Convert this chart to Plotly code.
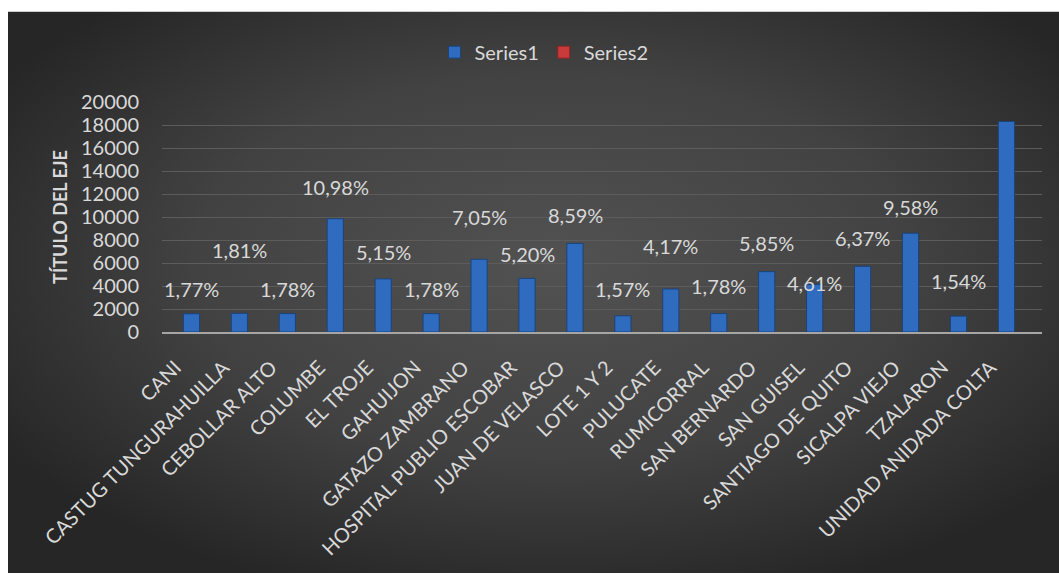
import base64
import plotly.graph_objects as go

categories = ["CANI", "CASTUG TUNGURAHUILLA", "CEBOLLAR ALTO", "COLUMBE", "EL TROJE",
              "GAHUIJON", "GATAZO ZAMBRANO", "HOSPITAL PUBLIO ESCOBAR", "JUAN DE VELASCO",
              "LOTE 1 Y 2", "PULUCATE", "RUMICORRAL", "SAN BERNARDO", "SAN GUISEL",
              "SANTIAGO DE QUITO", "SICALPA VIEJO", "TZALARON", "UNIDAD ANIDADA COLTA"]
series1 = [1588, 1624, 1597, 9849, 4620, 1597, 6324, 4664, 7705,
           1408, 3741, 1597, 5247, 4135, 5714, 8593, 1381, 18308]
series2 = [None] * len(categories)
pct_labels = ["1,77%", "1,81%", "1,78%", "10,98%", "5,15%", "1,78%", "7,05%", "5,20%", "8,59%",
              "1,57%", "4,17%", "1,78%", "5,85%", "4,61%", "6,37%", "9,58%", "1,54%", "20,41%"]
# vertical placement of the percentage labels (axis units)
label_y = [3720, 7140, 3720, 12575, 6990, 3720, 10030, 6790, 10170,
           3730, 7490, 4020, 7720, 4280, 8150, 10890, 4450, 20200]
y_ticks = list(range(0, 20001, 2000))

FONT = "Lato"
TXT = "#d9d9d9"

svg = """<svg xmlns='http://www.w3.org/2000/svg' width='1051' height='563' viewBox='0 0 1051 563' preserveAspectRatio='none'>
<defs><radialGradient id='g' cx='52%' cy='45%' r='62%'>
<stop offset='0' stop-color='#525252'/><stop offset='0.55' stop-color='#424242'/><stop offset='1' stop-color='#262626'/>
</radialGradient></defs><rect width='1051' height='563' fill='url(#g)'/></svg>"""
bg_uri = "data:image/svg+xml;base64," + base64.b64encode(svg.encode()).decode()

fig = go.Figure()
fig.add_trace(go.Bar(x=categories, y=series1, name="Series1",
                     marker=dict(color="#2f6cc0", line=dict(color="#1b4378", width=1))))
fig.add_trace(go.Bar(x=categories, y=series2, name="Series2",
                     marker=dict(color="#c93a3a", line=dict(color="#8e2323", width=1))))

for c, t, ly in zip(categories, pct_labels, label_y):
    fig.add_annotation(x=c, y=ly, text=t, showarrow=False, xshift=-8,
                       font=dict(family=FONT, size=20, color=TXT))

# plot area in pixels: x 162..1042, y 101.7..332.3
L, R, T, B = 162, 1042, 101.7, 332.3
W, H = R - L, B - T
fig.add_layout_image(source=bg_uri, xref="paper", yref="paper",
                     x=(8 - L) / W, y=(B - 11) / H,
                     sizex=(1059 - 8) / W, sizey=(574 - 11) / H,
                     xanchor="left", yanchor="top", sizing="stretch", layer="below")

fig.update_layout(
    width=1059, height=574,
    margin=dict(l=L, r=1059 - R, t=T, b=574 - B),
    paper_bgcolor="white", plot_bgcolor="rgba(0,0,0,0)",
    barmode="group", bargap=0.325, bargroupgap=0,
    font=dict(family=FONT, color=TXT),
    showlegend=True,
    legend=dict(orientation="h", x=(544 - L) / W, y=(B - 51.7) / H, xanchor="center", yanchor="middle",
                font=dict(family=FONT, size=20, color=TXT), bgcolor="rgba(0,0,0,0)",
                itemwidth=30, tracegroupgap=0),
)
fig.update_xaxes(tickangle=-45, tickfont=dict(family=FONT, size=20, color=TXT),
                 showline=True, linecolor="#a6a6a6", linewidth=2,
                 ticks="", showgrid=False,
                 ticklabelshift=-24, ticklabelstandoff=14)
fig.update_yaxes(range=[0, 20000], tickvals=y_ticks, ticktext=[str(v) for v in y_ticks],
                 tickfont=dict(family=FONT, size=20, color=TXT),
                 showgrid=True, gridcolor="#5c5c5c", gridwidth=1, zeroline=False,
                 ticks="outside", ticklen=18, tickcolor="rgba(0,0,0,0)",
                 title=dict(text="<b>TÍTULO DEL EJE</b>", font=dict(family=FONT, size=18, color=TXT), standoff=8))

fig.write_html("out.html", config={"displayModeBar": False},
               post_script="document.body.style.margin='0';document.body.style.overflow='hidden';")
